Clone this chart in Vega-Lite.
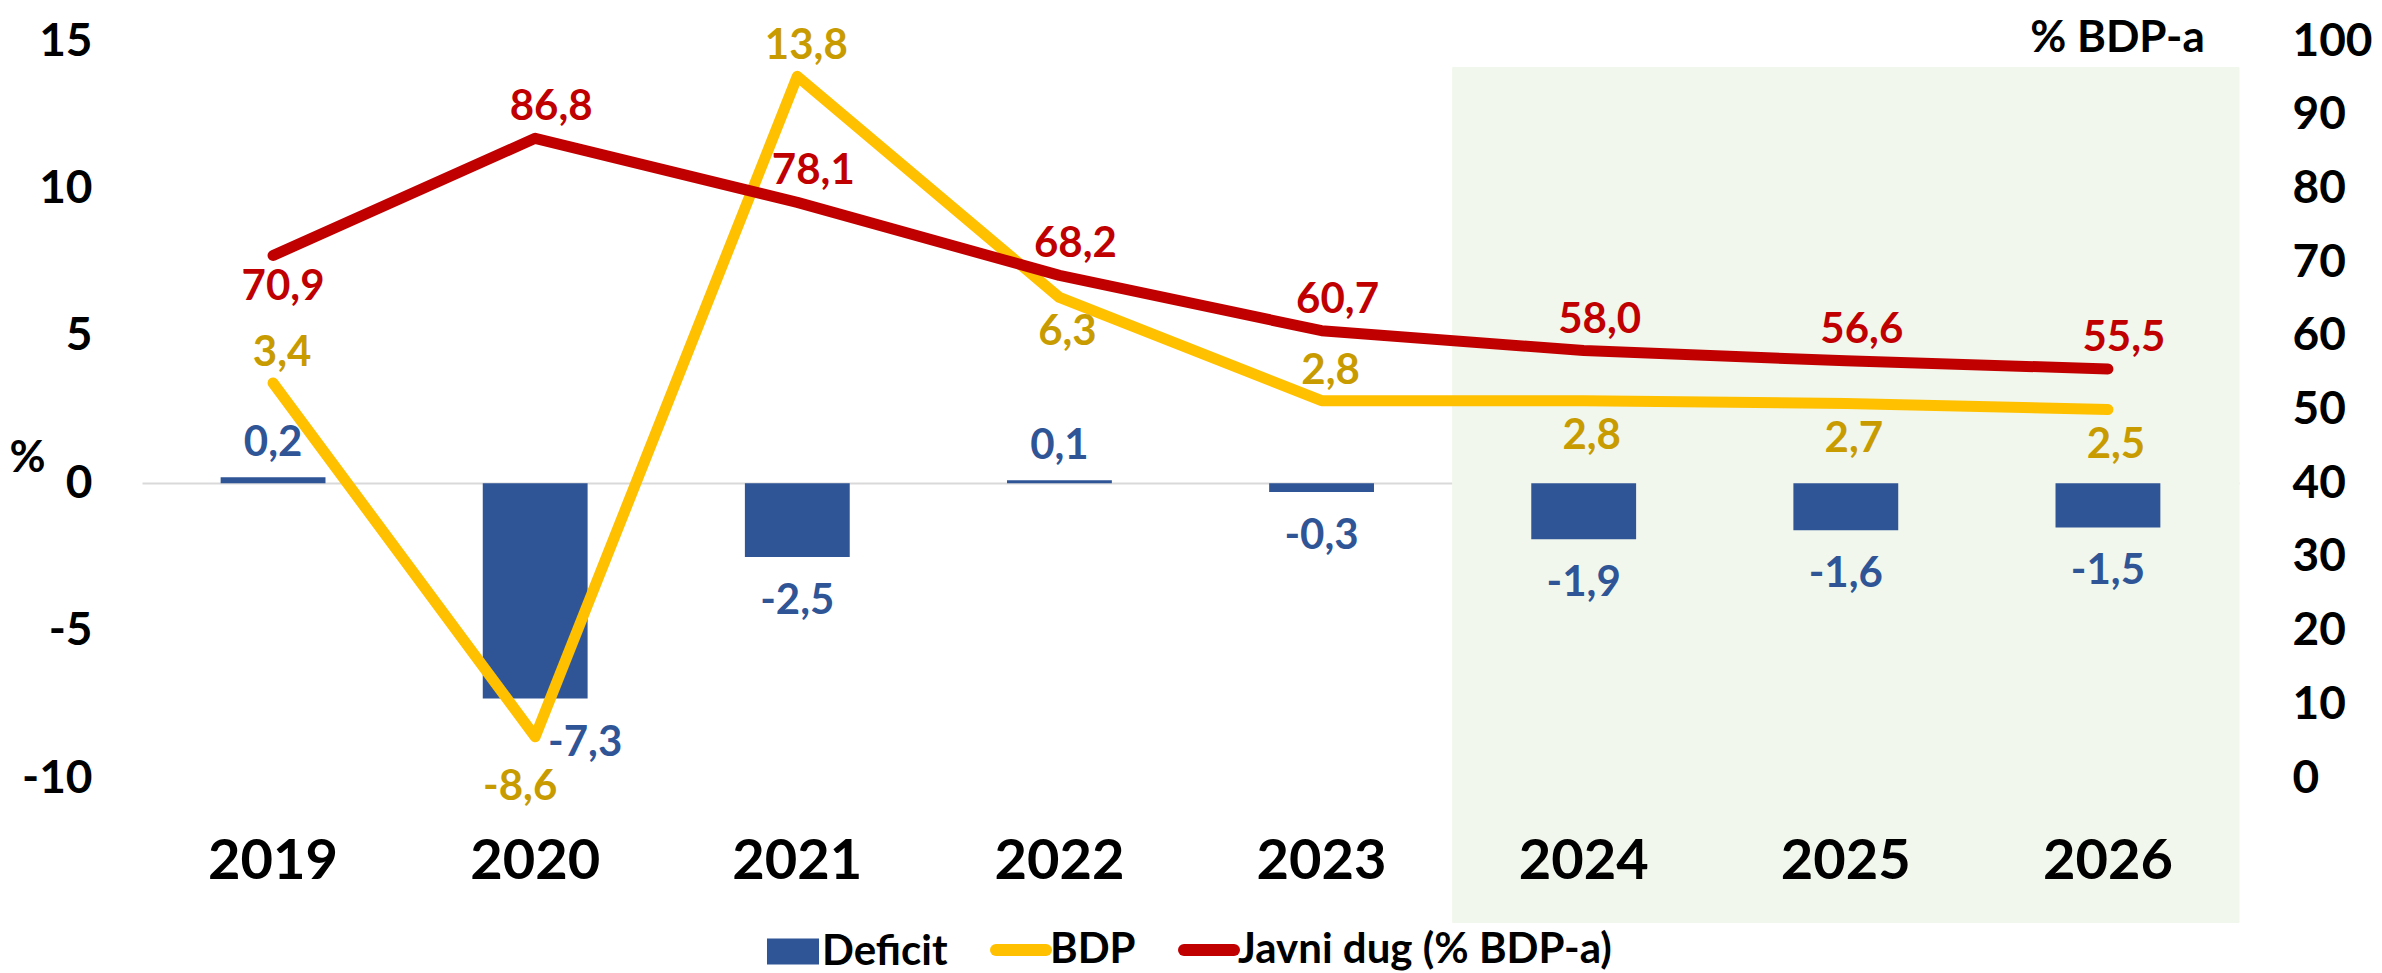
{
  "$schema": "https://vega.github.io/schema/vega-lite/v6.json",
  "width": 2097,
  "height": 737,
  "autosize": {"type": "none"},
  "padding": {"left": 142, "top": 41, "right": 143, "bottom": 195},
  "background": "white",
  "config": {
    "view": {"stroke": null},
    "font": "Lato",
    "locale": {"number": {"decimal": ",", "thousands": ".", "grouping": [3], "currency": ["", ""], "minus": "-"}},
    "text": {"font": "Lato", "fontWeight": "bold", "fontSize": 42, "baseline": "middle", "align": "center"}
  },
  "data": {"values": [
    {"year": "2019", "deficit": 0.2, "bdp": 3.4, "dug": 70.9},
    {"year": "2020", "deficit": -7.3, "bdp": -8.6, "dug": 86.8},
    {"year": "2021", "deficit": -2.5, "bdp": 13.8, "dug": 78.1},
    {"year": "2022", "deficit": 0.1, "bdp": 6.3, "dug": 68.2},
    {"year": "2023", "deficit": -0.3, "bdp": 2.8, "dug": 60.7},
    {"year": "2024", "deficit": -1.9, "bdp": 2.8, "dug": 58.0},
    {"year": "2025", "deficit": -1.6, "bdp": 2.7, "dug": 56.6},
    {"year": "2026", "deficit": -1.5, "bdp": 2.5, "dug": 55.5}
  ]},
  "encoding": {
    "x": {"field": "year", "type": "ordinal", "title": null,
      "scale": {"paddingInner": 0, "paddingOuter": 0},
      "axis": {"title": null, "domain": false, "ticks": false, "labelPadding": 56, "labelFontSize": 56, "labelFont": "Lato", "labelFontWeight": "bold", "labelColor": "black", "labelAngle": 0, "grid": false, "zindex": 1}}
  },
  "resolve": {"scale": {"y": "independent"}},
  "layer": [
    {
      "layer": [
        {
          "transform": [{"filter": "datum.year >= '2024'"}],
          "mark": {"type": "bar", "color": "#F1F7EC", "stroke": "#F1F7EC", "strokeWidth": 1, "width": {"band": 1}},
          "encoding": {
            "y": {"datum": 14.1, "type": "quantitative", "title": "%",
              "scale": {"domain": [-10, 15], "nice": false, "zero": false},
              "axis": {"title": "%", "titleAngle": 0, "titleX": -115, "titleY": 417, "titleAlign": "center", "titleBaseline": "middle", "titleFontSize": 44, "titleFont": "Lato", "titleFontWeight": "bold", "titleColor": "black", "values": [-10, -5, 0, 5, 10, 15], "domain": false, "ticks": false, "grid": true, "gridColor": "#D9D9D9", "gridWidth": 2, "gridOpacity": {"condition": {"test": "datum.value === 0", "value": 1}, "value": 0}, "labelPadding": 50, "labelFontSize": 46, "labelFont": "Lato", "labelFontWeight": "bold", "labelColor": "black", "labelFlush": false, "labelOverlap": false}},
            "y2": {"datum": -14.9}
          }
        },
        {
          "mark": {"type": "bar", "width": {"band": 0.4}},
          "encoding": {
            "y": {"field": "deficit", "type": "quantitative", "title": "%",
              "scale": {"domain": [-10, 15], "nice": false, "zero": false},
              "axis": {"title": "%", "titleAngle": 0, "titleX": -115, "titleY": 417, "titleAlign": "center", "titleBaseline": "middle", "titleFontSize": 44, "titleFont": "Lato", "titleFontWeight": "bold", "titleColor": "black", "values": [-10, -5, 0, 5, 10, 15], "domain": false, "ticks": false, "grid": true, "gridColor": "#D9D9D9", "gridWidth": 2, "gridOpacity": {"condition": {"test": "datum.value === 0", "value": 1}, "value": 0}, "labelPadding": 50, "labelFontSize": 46, "labelFont": "Lato", "labelFontWeight": "bold", "labelColor": "black", "labelFlush": false, "labelOverlap": false}},
            "color": {"datum": "Deficit", "type": "nominal",
              "scale": {"domain": ["Deficit", "BDP", "Javni dug (% BDP-a)"], "range": ["#2F5597", "#FFC000", "#C00000"]},
              "legend": {
                "orient": "none", "legendX": 630, "legendY": 888, "direction": "horizontal", "title": null,
                "labelFont": "Lato", "labelFontSize": 42, "labelFontWeight": "bold", "labelColor": "black",
                "labelLimit": 1000, "symbolSize": 3600, "labelOffset": 8, "columnPadding": 24, "padding": 0,
                "symbolType": "M-0.867,-0.433H0.867V0.433H-0.867Z",
                "encode": {"symbols": {"update": {
                  "shape": {"signal": "datum.value === 'Deficit' ? 'M-0.867,-0.433H0.867V0.433H-0.867Z' : 'M-0.833,0H0.833'"},
                  "fill": {"signal": "datum.value === 'Deficit' ? '#2F5597' : 'transparent'"},
                  "stroke": {"signal": "datum.value === 'Deficit' ? 'transparent' : (datum.value === 'BDP' ? '#FFC000' : '#C00000')"},
                  "strokeWidth": {"signal": "datum.value === 'Deficit' ? 0 : 12"},
                  "strokeCap": {"value": "round"},
                  "size": {"value": 3600},
                  "opacity": {"value": 1}
                }}}
              }}
          }
        },
        {
          "mark": {"type": "line", "strokeWidth": 11, "strokeCap": "round", "strokeJoin": "round"},
          "encoding": {
            "y": {"field": "bdp", "type": "quantitative", "title": "%",
              "scale": {"domain": [-10, 15], "nice": false, "zero": false},
              "axis": {"title": "%", "titleAngle": 0, "titleX": -115, "titleY": 417, "titleAlign": "center", "titleBaseline": "middle", "titleFontSize": 44, "titleFont": "Lato", "titleFontWeight": "bold", "titleColor": "black", "values": [-10, -5, 0, 5, 10, 15], "domain": false, "ticks": false, "grid": true, "gridColor": "#D9D9D9", "gridWidth": 2, "gridOpacity": {"condition": {"test": "datum.value === 0", "value": 1}, "value": 0}, "labelPadding": 50, "labelFontSize": 46, "labelFont": "Lato", "labelFontWeight": "bold", "labelColor": "black", "labelFlush": false, "labelOverlap": false}},
            "color": {"datum": "BDP", "type": "nominal"}
          }
        },
        {
          "transform": [{"filter": "datum.deficit > 0"}],
          "mark": {"type": "text", "color": "#2F5597", "dy": -34},
          "encoding": {
            "y": {"field": "deficit", "type": "quantitative", "title": "%",
              "scale": {"domain": [-10, 15], "nice": false, "zero": false},
              "axis": {"title": "%", "titleAngle": 0, "titleX": -115, "titleY": 417, "titleAlign": "center", "titleBaseline": "middle", "titleFontSize": 44, "titleFont": "Lato", "titleFontWeight": "bold", "titleColor": "black", "values": [-10, -5, 0, 5, 10, 15], "domain": false, "ticks": false, "grid": true, "gridColor": "#D9D9D9", "gridWidth": 2, "gridOpacity": {"condition": {"test": "datum.value === 0", "value": 1}, "value": 0}, "labelPadding": 50, "labelFontSize": 46, "labelFont": "Lato", "labelFontWeight": "bold", "labelColor": "black", "labelFlush": false, "labelOverlap": false}},
            "text": {"field": "deficit", "type": "quantitative", "format": ".1f"}
          }
        },
        {
          "transform": [{"filter": "datum.deficit < 0 && datum.year != '2020'"}],
          "mark": {"type": "text", "color": "#2F5597", "dy": 44},
          "encoding": {
            "y": {"field": "deficit", "type": "quantitative", "title": "%",
              "scale": {"domain": [-10, 15], "nice": false, "zero": false},
              "axis": {"title": "%", "titleAngle": 0, "titleX": -115, "titleY": 417, "titleAlign": "center", "titleBaseline": "middle", "titleFontSize": 44, "titleFont": "Lato", "titleFontWeight": "bold", "titleColor": "black", "values": [-10, -5, 0, 5, 10, 15], "domain": false, "ticks": false, "grid": true, "gridColor": "#D9D9D9", "gridWidth": 2, "gridOpacity": {"condition": {"test": "datum.value === 0", "value": 1}, "value": 0}, "labelPadding": 50, "labelFontSize": 46, "labelFont": "Lato", "labelFontWeight": "bold", "labelColor": "black", "labelFlush": false, "labelOverlap": false}},
            "text": {"field": "deficit", "type": "quantitative", "format": ".1f"}
          }
        },
        {
          "transform": [{"filter": "datum.year == '2020'"}],
          "mark": {"type": "text", "color": "#2F5597", "dy": 45, "dx": 50},
          "encoding": {
            "y": {"field": "deficit", "type": "quantitative", "title": "%",
              "scale": {"domain": [-10, 15], "nice": false, "zero": false},
              "axis": {"title": "%", "titleAngle": 0, "titleX": -115, "titleY": 417, "titleAlign": "center", "titleBaseline": "middle", "titleFontSize": 44, "titleFont": "Lato", "titleFontWeight": "bold", "titleColor": "black", "values": [-10, -5, 0, 5, 10, 15], "domain": false, "ticks": false, "grid": true, "gridColor": "#D9D9D9", "gridWidth": 2, "gridOpacity": {"condition": {"test": "datum.value === 0", "value": 1}, "value": 0}, "labelPadding": 50, "labelFontSize": 46, "labelFont": "Lato", "labelFontWeight": "bold", "labelColor": "black", "labelFlush": false, "labelOverlap": false}},
            "text": {"field": "deficit", "type": "quantitative", "format": ".1f"}
          }
        },
        {
          "transform": [{"filter": "datum.year == '2019' || datum.year == '2021' || datum.year == '2023'"}],
          "mark": {"type": "text", "color": "#C89B00", "dy": -30, "dx": 9},
          "encoding": {
            "y": {"field": "bdp", "type": "quantitative", "title": "%",
              "scale": {"domain": [-10, 15], "nice": false, "zero": false},
              "axis": {"title": "%", "titleAngle": 0, "titleX": -115, "titleY": 417, "titleAlign": "center", "titleBaseline": "middle", "titleFontSize": 44, "titleFont": "Lato", "titleFontWeight": "bold", "titleColor": "black", "values": [-10, -5, 0, 5, 10, 15], "domain": false, "ticks": false, "grid": true, "gridColor": "#D9D9D9", "gridWidth": 2, "gridOpacity": {"condition": {"test": "datum.value === 0", "value": 1}, "value": 0}, "labelPadding": 50, "labelFontSize": 46, "labelFont": "Lato", "labelFontWeight": "bold", "labelColor": "black", "labelFlush": false, "labelOverlap": false}},
            "text": {"field": "bdp", "type": "quantitative", "format": ".1f"}
          }
        },
        {
          "transform": [{"filter": "datum.year == '2022' || datum.year >= '2024'"}],
          "mark": {"type": "text", "color": "#C89B00", "dy": 35, "dx": 8},
          "encoding": {
            "y": {"field": "bdp", "type": "quantitative", "title": "%",
              "scale": {"domain": [-10, 15], "nice": false, "zero": false},
              "axis": {"title": "%", "titleAngle": 0, "titleX": -115, "titleY": 417, "titleAlign": "center", "titleBaseline": "middle", "titleFontSize": 44, "titleFont": "Lato", "titleFontWeight": "bold", "titleColor": "black", "values": [-10, -5, 0, 5, 10, 15], "domain": false, "ticks": false, "grid": true, "gridColor": "#D9D9D9", "gridWidth": 2, "gridOpacity": {"condition": {"test": "datum.value === 0", "value": 1}, "value": 0}, "labelPadding": 50, "labelFontSize": 46, "labelFont": "Lato", "labelFontWeight": "bold", "labelColor": "black", "labelFlush": false, "labelOverlap": false}},
            "text": {"field": "bdp", "type": "quantitative", "format": ".1f"}
          }
        },
        {
          "transform": [{"filter": "datum.year == '2020'"}],
          "mark": {"type": "text", "color": "#C89B00", "dy": 50, "dx": -15},
          "encoding": {
            "y": {"field": "bdp", "type": "quantitative", "title": "%",
              "scale": {"domain": [-10, 15], "nice": false, "zero": false},
              "axis": {"title": "%", "titleAngle": 0, "titleX": -115, "titleY": 417, "titleAlign": "center", "titleBaseline": "middle", "titleFontSize": 44, "titleFont": "Lato", "titleFontWeight": "bold", "titleColor": "black", "values": [-10, -5, 0, 5, 10, 15], "domain": false, "ticks": false, "grid": true, "gridColor": "#D9D9D9", "gridWidth": 2, "gridOpacity": {"condition": {"test": "datum.value === 0", "value": 1}, "value": 0}, "labelPadding": 50, "labelFontSize": 46, "labelFont": "Lato", "labelFontWeight": "bold", "labelColor": "black", "labelFlush": false, "labelOverlap": false}},
            "text": {"field": "bdp", "type": "quantitative", "format": ".1f"}
          }
        }
      ]
    },
    {
      "layer": [
        {
          "mark": {"type": "line", "strokeWidth": 11, "strokeCap": "round", "strokeJoin": "round"},
          "encoding": {
            "y": {"field": "dug", "type": "quantitative", "title": "% BDP-a",
              "scale": {"domain": [0, 100], "nice": false, "zero": false},
              "axis": {"orient": "right", "title": "% BDP-a", "titleAngle": 0, "titleX": -122, "titleY": -3, "titleAlign": "center", "titleBaseline": "middle", "titleFontSize": 44, "titleFont": "Lato", "titleFontWeight": "bold", "titleColor": "black", "values": [0, 10, 20, 30, 40, 50, 60, 70, 80, 90, 100], "domain": false, "ticks": false, "grid": false, "labelPadding": 53, "labelFontSize": 46, "labelFont": "Lato", "labelFontWeight": "bold", "labelColor": "black", "labelFlush": false, "labelOverlap": false}},
            "color": {"datum": "Javni dug (% BDP-a)", "type": "nominal"}
          }
        },
        {
          "transform": [{"filter": "datum.year != '2019'"}],
          "mark": {"type": "text", "color": "#C00000", "dy": -31, "dx": 16},
          "encoding": {
            "y": {"field": "dug", "type": "quantitative", "title": "% BDP-a",
              "scale": {"domain": [0, 100], "nice": false, "zero": false},
              "axis": {"orient": "right", "title": "% BDP-a", "titleAngle": 0, "titleX": -122, "titleY": -3, "titleAlign": "center", "titleBaseline": "middle", "titleFontSize": 44, "titleFont": "Lato", "titleFontWeight": "bold", "titleColor": "black", "values": [0, 10, 20, 30, 40, 50, 60, 70, 80, 90, 100], "domain": false, "ticks": false, "grid": false, "labelPadding": 53, "labelFontSize": 46, "labelFont": "Lato", "labelFontWeight": "bold", "labelColor": "black", "labelFlush": false, "labelOverlap": false}},
            "text": {"field": "dug", "type": "quantitative", "format": ".1f"}
          }
        },
        {
          "transform": [{"filter": "datum.year == '2019'"}],
          "mark": {"type": "text", "color": "#C00000", "dy": 32, "dx": 10},
          "encoding": {
            "y": {"field": "dug", "type": "quantitative", "title": "% BDP-a",
              "scale": {"domain": [0, 100], "nice": false, "zero": false},
              "axis": {"orient": "right", "title": "% BDP-a", "titleAngle": 0, "titleX": -122, "titleY": -3, "titleAlign": "center", "titleBaseline": "middle", "titleFontSize": 44, "titleFont": "Lato", "titleFontWeight": "bold", "titleColor": "black", "values": [0, 10, 20, 30, 40, 50, 60, 70, 80, 90, 100], "domain": false, "ticks": false, "grid": false, "labelPadding": 53, "labelFontSize": 46, "labelFont": "Lato", "labelFontWeight": "bold", "labelColor": "black", "labelFlush": false, "labelOverlap": false}},
            "text": {"field": "dug", "type": "quantitative", "format": ".1f"}
          }
        }
      ]
    }
  ]
}
